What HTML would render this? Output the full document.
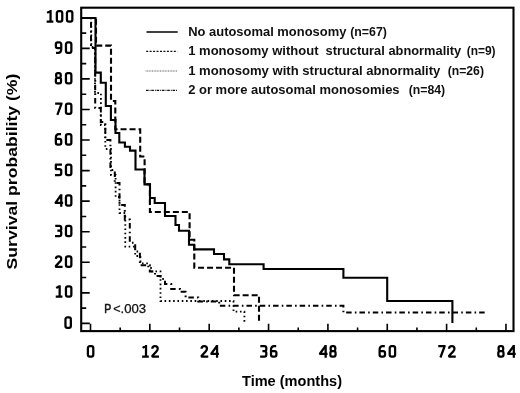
<!DOCTYPE html><html><head><meta charset="utf-8"><style>html,body{margin:0;padding:0;background:#fff;}body{width:520px;height:393px;overflow:hidden;}svg{display:block;will-change:transform;}</style></head><body><svg width="520" height="393" viewBox="0 0 520 393"><rect x="0" y="0" width="520" height="393" fill="#fff"/><path d="M81.2,323.40H89.7M81.2,308.12H86.2M81.2,292.84H89.7M81.2,277.56H86.2M81.2,262.28H89.7M81.2,247.00H86.2M81.2,231.72H89.7M81.2,216.44H86.2M81.2,201.16H89.7M81.2,185.88H86.2M81.2,170.60H89.7M81.2,155.32H86.2M81.2,140.04H89.7M81.2,124.76H86.2M81.2,109.48H89.7M81.2,94.20H86.2M81.2,78.92H89.7M81.2,63.64H86.2M81.2,48.36H89.7M81.2,33.08H86.2M81.2,17.80H89.7M90.50,331.1V323.8M120.18,331.1V327.5M149.85,331.1V323.8M179.53,331.1V327.5M209.20,331.1V323.8M238.88,331.1V327.5M268.56,331.1V323.8M298.23,331.1V327.5M327.91,331.1V323.8M357.58,331.1V327.5M387.26,331.1V323.8M416.94,331.1V327.5M446.61,331.1V323.8M476.29,331.1V327.5M505.96,331.1V323.8" stroke="#000" stroke-width="1.6" fill="none"/><path d="M82,18.05 H91.3 V47 H95 V93 H100.9 V125 H105.3 V149 H111 V175 H115.6 V197 H119.5 V213 H125.3 V246.6 H135.2 V256 H140.5 V263.4 H148.2 V268 H152 V271.4 H160.5 V301 H233.5 V311.6 H244.4 V322.6" stroke="#000" stroke-width="1.8" fill="none" stroke-dasharray="1.6 2.7"/><path d="M82,18.05 H91 V48 H95.2 V108 H100.8 V122 H105.3 V140 H110.4 V170 H114.8 V183 H119.5 V205 H124.8 V219.5 H129.8 V242.8 H135.2 V251.5 H139.9 V265.3 H149.8 V271.4 H155 V276 H160.5 V279 H165 V284 H171.2 V289 H180 V291.8 H185.6 V297.4 H198.2 V301.6 H219.2 V305.8 H343.4 V312.5 H485.4" stroke="#000" stroke-width="2" fill="none" stroke-dasharray="5.5 3.2 1.6 3"/><path d="M82,18.05 H96 V45.6 H111 V101 H115.3 V129.3 H140.2 V156.5 H144.6 V184.3 H149.9 V212 H189.6 V239.8 H194.3 V267.8 H234 V295.2 H259 V322.5" stroke="#000" stroke-width="2.1" fill="none" stroke-dasharray="6 3" stroke-dashoffset="3.2"/><path d="M82,18.05 H95.5 V72.6 H100.8 V82.7 H105.8 V106 H110.9 V120 H115.5 V133 H119.3 V142.5 H124.9 V146.7 H130 V150.6 H135.5 V169.5 H144.5 V184.4 H150 V198 H154.7 V203 H165 V216 H175.5 V225 H179 V230.8 H189 V244.8 H194.2 V249.4 H214 V254 H224 V259.4 H229.3 V264.2 H263.6 V269 H343.4 V277.7 H387.2 V301 H452.4 V323" stroke="#000" stroke-width="2.1" fill="none"/><rect x="81.2" y="7.7" width="432.30" height="323.40" stroke="#000" stroke-width="2.1" fill="none"/><line x1="146.5" y1="32.0" x2="177.7" y2="32.0" stroke="#000" stroke-width="1.5"/><line x1="146.2" y1="51.4" x2="177.4" y2="51.4" stroke="#111" stroke-width="1.3" stroke-dasharray="2 1.45"/><line x1="145.6" y1="71.0" x2="177.6" y2="71.0" stroke="#999" stroke-width="1.3" stroke-dasharray="1 0.6"/><line x1="146" y1="90.4" x2="177.6" y2="90.4" stroke="#111" stroke-width="1.3" stroke-dasharray="2.6 1.0 0.9 0.8"/><text x="188.2" y="35.8" font-family="&quot;Liberation Sans&quot;, sans-serif" font-weight="bold" font-size="12.2" fill="#111" textLength="158.2" lengthAdjust="spacingAndGlyphs" >No autosomal monosomy</text><text x="350.2" y="35.8" font-family="&quot;Liberation Sans&quot;, sans-serif" font-weight="bold" font-size="12.2" fill="#111" textLength="36.69999999999999" lengthAdjust="spacingAndGlyphs" >(n=67)</text><text x="188.2" y="55.1" font-family="&quot;Liberation Sans&quot;, sans-serif" font-weight="bold" font-size="12.2" fill="#111" textLength="130.3" lengthAdjust="spacingAndGlyphs" >1 monosomy without</text><text x="325.6" y="55.1" font-family="&quot;Liberation Sans&quot;, sans-serif" font-weight="bold" font-size="12.2" fill="#111" textLength="135.59999999999997" lengthAdjust="spacingAndGlyphs" >structural abnormality</text><text x="466.7" y="55.1" font-family="&quot;Liberation Sans&quot;, sans-serif" font-weight="bold" font-size="12.2" fill="#111" textLength="28.900000000000034" lengthAdjust="spacingAndGlyphs" >(n=9)</text><text x="188.2" y="74.8" font-family="&quot;Liberation Sans&quot;, sans-serif" font-weight="bold" font-size="12.2" fill="#111" textLength="252.2" lengthAdjust="spacingAndGlyphs" >1 monosomy with structural abnormality</text><text x="447.7" y="74.8" font-family="&quot;Liberation Sans&quot;, sans-serif" font-weight="bold" font-size="12.2" fill="#111" textLength="36.30000000000001" lengthAdjust="spacingAndGlyphs" >(n=26)</text><text x="188.2" y="94.0" font-family="&quot;Liberation Sans&quot;, sans-serif" font-weight="bold" font-size="12.2" fill="#111" textLength="211.40000000000003" lengthAdjust="spacingAndGlyphs" >2 or more autosomal monosomies</text><text x="408.7" y="94.0" font-family="&quot;Liberation Sans&quot;, sans-serif" font-weight="bold" font-size="12.2" fill="#111" textLength="36.5" lengthAdjust="spacingAndGlyphs" >(n=84)</text><text x="104.2" y="312.5" font-family="&quot;Liberation Sans&quot;, sans-serif" font-size="12" fill="#111" stroke="#111" stroke-width="0.55" textLength="7" lengthAdjust="spacingAndGlyphs">P</text><text x="113.3" y="312.5" font-family="&quot;Liberation Sans&quot;, sans-serif" font-size="12" fill="#111" stroke="#111" stroke-width="0.2" textLength="7.4" lengthAdjust="spacingAndGlyphs">&lt;</text><text x="120.6" y="312.5" font-family="&quot;Liberation Sans&quot;, sans-serif" font-size="12" fill="#111" stroke="#111" stroke-width="0.25" textLength="25.6" lengthAdjust="spacingAndGlyphs">.003</text><g fill="none" stroke="#000" stroke-width="2.25" stroke-linejoin="round" stroke-linecap="butt"><path transform="translate(63.95,316.40)" d="M1.5,3.0 Q1.5,1.1 3.4,1.1 H5.0 Q6.9,1.1 6.9,3.0 V9.6 Q6.9,11.5 5.0,11.5 H3.4 Q1.5,11.5 1.5,9.6 Z"/><path transform="translate(54.35,285.24)" d="M5.3,0 V11.4 M1.4,11.5 H8.1 M5.0,0.9 L1.9,2.8"/><path transform="translate(64.45,285.24)" d="M1.5,3.0 Q1.5,1.1 3.4,1.1 H5.0 Q6.9,1.1 6.9,3.0 V9.6 Q6.9,11.5 5.0,11.5 H3.4 Q1.5,11.5 1.5,9.6 Z"/><path transform="translate(54.35,255.28)" d="M1.5,3.6 Q1.6,1.1 4.2,1.1 Q6.9,1.1 6.9,3.6 Q6.9,5.0 5.6,6.3 L1.6,10.6 V11.5 H8.2"/><path transform="translate(64.45,255.28)" d="M1.5,3.0 Q1.5,1.1 3.4,1.1 H5.0 Q6.9,1.1 6.9,3.0 V9.6 Q6.9,11.5 5.0,11.5 H3.4 Q1.5,11.5 1.5,9.6 Z"/><path transform="translate(54.35,224.72)" d="M0.9,1.1 H5.0 Q6.9,1.1 6.9,3.0 V4.2 Q6.9,6.0 5.1,6.0 H3.0 M5.1,6.0 Q6.9,6.0 6.9,7.9 V9.6 Q6.9,11.5 5.0,11.5 H0.7"/><path transform="translate(64.45,224.72)" d="M1.5,3.0 Q1.5,1.1 3.4,1.1 H5.0 Q6.9,1.1 6.9,3.0 V9.6 Q6.9,11.5 5.0,11.5 H3.4 Q1.5,11.5 1.5,9.6 Z"/><path transform="translate(54.35,194.16)" d="M6.9,0 V12.6 M6.6,1.1 L1.3,8.4 V8.8 H8.8"/><path transform="translate(64.45,194.16)" d="M1.5,3.0 Q1.5,1.1 3.4,1.1 H5.0 Q6.9,1.1 6.9,3.0 V9.6 Q6.9,11.5 5.0,11.5 H3.4 Q1.5,11.5 1.5,9.6 Z"/><path transform="translate(54.35,163.60)" d="M7.6,1.1 H1.5 V5.4 H5.0 Q6.9,5.4 6.9,7.3 V9.6 Q6.9,11.5 5.0,11.5 H0.6"/><path transform="translate(64.45,163.60)" d="M1.5,3.0 Q1.5,1.1 3.4,1.1 H5.0 Q6.9,1.1 6.9,3.0 V9.6 Q6.9,11.5 5.0,11.5 H3.4 Q1.5,11.5 1.5,9.6 Z"/><path transform="translate(54.35,133.04)" d="M6.7,1.1 H4.6 Q1.5,1.1 1.5,5.0 V9.6 Q1.5,11.5 3.4,11.5 H5.0 Q6.9,11.5 6.9,9.6 V7.7 Q6.9,5.9 5.0,5.9 H1.6"/><path transform="translate(64.45,133.04)" d="M1.5,3.0 Q1.5,1.1 3.4,1.1 H5.0 Q6.9,1.1 6.9,3.0 V9.6 Q6.9,11.5 5.0,11.5 H3.4 Q1.5,11.5 1.5,9.6 Z"/><path transform="translate(54.35,102.48)" d="M0.8,1.1 H7.2 L3.0,12.4"/><path transform="translate(64.45,102.48)" d="M1.5,3.0 Q1.5,1.1 3.4,1.1 H5.0 Q6.9,1.1 6.9,3.0 V9.6 Q6.9,11.5 5.0,11.5 H3.4 Q1.5,11.5 1.5,9.6 Z"/><path transform="translate(54.35,71.92)" d="M3.5,5.9 Q1.8,5.9 1.8,4.2 V2.8 Q1.8,1.1 3.5,1.1 H4.7 Q6.4,1.1 6.4,2.8 V4.2 Q6.4,5.9 4.7,5.9 Z M3.3,5.9 H4.9 Q6.7,5.9 6.7,7.8 V9.6 Q6.7,11.5 4.9,11.5 H3.3 Q1.5,11.5 1.5,9.6 V7.8 Q1.5,5.9 3.3,5.9 Z"/><path transform="translate(64.45,71.92)" d="M1.5,3.0 Q1.5,1.1 3.4,1.1 H5.0 Q6.9,1.1 6.9,3.0 V9.6 Q6.9,11.5 5.0,11.5 H3.4 Q1.5,11.5 1.5,9.6 Z"/><path transform="translate(54.35,41.36)" d="M1.7,11.5 H3.8 Q6.9,11.5 6.9,7.6 V3.0 Q6.9,1.1 5.0,1.1 H3.4 Q1.5,1.1 1.5,3.0 V4.8 Q1.5,6.7 3.4,6.7 H6.8"/><path transform="translate(64.45,41.36)" d="M1.5,3.0 Q1.5,1.1 3.4,1.1 H5.0 Q6.9,1.1 6.9,3.0 V9.6 Q6.9,11.5 5.0,11.5 H3.4 Q1.5,11.5 1.5,9.6 Z"/><path transform="translate(45.25,10.10)" d="M5.3,0 V11.4 M1.4,11.5 H8.1 M5.0,0.9 L1.9,2.8"/><path transform="translate(55.35,10.10)" d="M1.5,3.0 Q1.5,1.1 3.4,1.1 H5.0 Q6.9,1.1 6.9,3.0 V9.6 Q6.9,11.5 5.0,11.5 H3.4 Q1.5,11.5 1.5,9.6 Z"/><path transform="translate(65.45,10.10)" d="M1.5,3.0 Q1.5,1.1 3.4,1.1 H5.0 Q6.9,1.1 6.9,3.0 V9.6 Q6.9,11.5 5.0,11.5 H3.4 Q1.5,11.5 1.5,9.6 Z"/><path transform="translate(86.40,345.10)" d="M1.5,3.0 Q1.5,1.1 3.4,1.1 H5.0 Q6.9,1.1 6.9,3.0 V9.6 Q6.9,11.5 5.0,11.5 H3.4 Q1.5,11.5 1.5,9.6 Z"/><path transform="translate(140.70,345.10)" d="M5.3,0 V11.4 M1.4,11.5 H8.1 M5.0,0.9 L1.9,2.8"/><path transform="translate(150.80,345.10)" d="M1.5,3.6 Q1.6,1.1 4.2,1.1 Q6.9,1.1 6.9,3.6 Q6.9,5.0 5.6,6.3 L1.6,10.6 V11.5 H8.2"/><path transform="translate(200.05,345.10)" d="M1.5,3.6 Q1.6,1.1 4.2,1.1 Q6.9,1.1 6.9,3.6 Q6.9,5.0 5.6,6.3 L1.6,10.6 V11.5 H8.2"/><path transform="translate(210.15,345.10)" d="M6.9,0 V12.6 M6.6,1.1 L1.3,8.4 V8.8 H8.8"/><path transform="translate(259.41,345.10)" d="M0.9,1.1 H5.0 Q6.9,1.1 6.9,3.0 V4.2 Q6.9,6.0 5.1,6.0 H3.0 M5.1,6.0 Q6.9,6.0 6.9,7.9 V9.6 Q6.9,11.5 5.0,11.5 H0.7"/><path transform="translate(269.51,345.10)" d="M6.7,1.1 H4.6 Q1.5,1.1 1.5,5.0 V9.6 Q1.5,11.5 3.4,11.5 H5.0 Q6.9,11.5 6.9,9.6 V7.7 Q6.9,5.9 5.0,5.9 H1.6"/><path transform="translate(318.76,345.10)" d="M6.9,0 V12.6 M6.6,1.1 L1.3,8.4 V8.8 H8.8"/><path transform="translate(328.86,345.10)" d="M3.5,5.9 Q1.8,5.9 1.8,4.2 V2.8 Q1.8,1.1 3.5,1.1 H4.7 Q6.4,1.1 6.4,2.8 V4.2 Q6.4,5.9 4.7,5.9 Z M3.3,5.9 H4.9 Q6.7,5.9 6.7,7.8 V9.6 Q6.7,11.5 4.9,11.5 H3.3 Q1.5,11.5 1.5,9.6 V7.8 Q1.5,5.9 3.3,5.9 Z"/><path transform="translate(378.11,345.10)" d="M6.7,1.1 H4.6 Q1.5,1.1 1.5,5.0 V9.6 Q1.5,11.5 3.4,11.5 H5.0 Q6.9,11.5 6.9,9.6 V7.7 Q6.9,5.9 5.0,5.9 H1.6"/><path transform="translate(388.21,345.10)" d="M1.5,3.0 Q1.5,1.1 3.4,1.1 H5.0 Q6.9,1.1 6.9,3.0 V9.6 Q6.9,11.5 5.0,11.5 H3.4 Q1.5,11.5 1.5,9.6 Z"/><path transform="translate(437.46,345.10)" d="M0.8,1.1 H7.2 L3.0,12.4"/><path transform="translate(447.56,345.10)" d="M1.5,3.6 Q1.6,1.1 4.2,1.1 Q6.9,1.1 6.9,3.6 Q6.9,5.0 5.6,6.3 L1.6,10.6 V11.5 H8.2"/><path transform="translate(496.81,345.10)" d="M3.5,5.9 Q1.8,5.9 1.8,4.2 V2.8 Q1.8,1.1 3.5,1.1 H4.7 Q6.4,1.1 6.4,2.8 V4.2 Q6.4,5.9 4.7,5.9 Z M3.3,5.9 H4.9 Q6.7,5.9 6.7,7.8 V9.6 Q6.7,11.5 4.9,11.5 H3.3 Q1.5,11.5 1.5,9.6 V7.8 Q1.5,5.9 3.3,5.9 Z"/><path transform="translate(506.91,345.10)" d="M6.9,0 V12.6 M6.6,1.1 L1.3,8.4 V8.8 H8.8"/></g><text x="242" y="386.3" font-family="&quot;Liberation Sans&quot;, sans-serif" font-weight="bold" font-size="14.6" fill="#000" textLength="100" lengthAdjust="spacingAndGlyphs">Time (months)</text><text transform="translate(16.6,269.4) rotate(-90)" x="0" y="0" font-family="&quot;Liberation Sans&quot;, sans-serif" font-weight="bold" font-size="14.6" fill="#000" textLength="195.8" lengthAdjust="spacingAndGlyphs">Survival probability (%)</text></svg></body></html>
